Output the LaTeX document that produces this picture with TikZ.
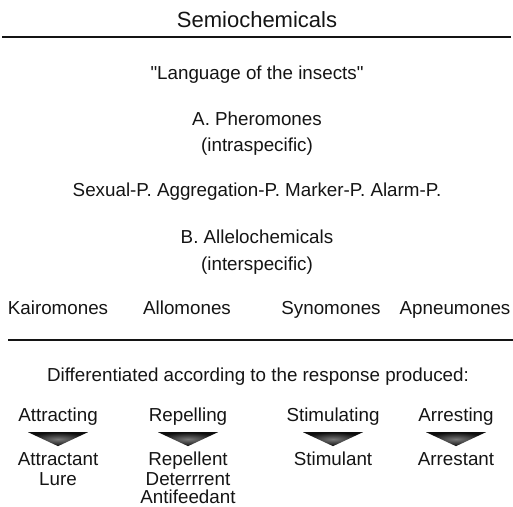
\documentclass[tikz,border=0pt]{standalone}
\usepackage{fontspec}
\setmainfont{Liberation Sans}
\usetikzlibrary{positioning,shapes.geometric}
\definecolor{inkblack}{RGB}{20, 20, 20}
\definecolor{arrowgrey}{RGB}{120, 120, 120}

\begin{document}
\begin{tikzpicture}[
    x=1pt, y=1pt,
    node distance=8pt and 10pt,
    heading/.style={
        inner sep=0pt,
        text height=16pt,
        text depth=4.7pt,
        text=inkblack,
        font=\fontsize{22}{24}\selectfont
    },
    term/.style={
        inner sep=0pt,
        text height=13.5pt,
        text depth=4pt,
        text=inkblack,
        font=\fontsize{18.8}{20}\selectfont
    },
    rule/.style={
        draw=inkblack,
        line width=1.1pt
    },
    tri/.style={
        isosceles triangle,
        isosceles triangle stretches,
        shape border rotate=270,
        minimum width=60pt,
        minimum height=14pt,
        inner sep=0pt,
        draw=none,
        inner color=arrowgrey,
        outer color=black!95
    }
]
    \useasboundingbox (0,0) rectangle (513,-506);

    % 1. Title and the first block
    \node[heading] (title) at (257,-22) {Semiochemicals};
    \draw[rule] (2,-37) -- (511,-37);

    \node[term, below=32.9pt of title] (lang) {\textquotedbl Language of the insects\textquotedbl};
    \node[term, below=28.5pt of lang] (pher) {A. Pheromones};
    \node[term, below=8.5pt of pher] (intra) {(intraspecific)};
    \node[term, below=26.5pt of intra] (sexual) {Sexual-P. Aggregation-P. Marker-P. Alarm-P.};
    \node[term, below=29.5pt of sexual] (allelo) {B. Allelochemicals};
    \node[term, below=8.5pt of allelo] (inter) {(interspecific)};

    % 2. Allelochemical classes
    \node[term] (kairo) at (58,-310) {Kairomones};
    \node[term] (allo) at (187,-310) {Allomones};
    \node[term] (syno) at (331,-310) {Synomones};
    \node[term] (apneu) at (455,-310) {Apneumones};
    \draw[rule] (8,-340) -- (513,-340);

    % 3. Response types
    \node[term] (diff) at (258,-377) {Differentiated according to the response produced:};

    \node[term] (attr) at (58,-417) {Attracting};
    \node[term] (repel) at (188,-417) {Repelling};
    \node[term] (stim) at (333,-417) {Stimulating};
    \node[term] (arrest) at (456,-417) {Arresting};

    \node[tri, below=6pt of attr] (attrtri) {};
    \node[tri, below=6pt of repel] (repeltri) {};
    \node[tri, below=6pt of stim] (stimtri) {};
    \node[tri, below=6pt of arrest] (arresttri) {};

    \node[term, below=5pt of attrtri] (attrp) {Attractant};
    \node[term, below=2pt of attrp] (lure) {Lure};
    \node[term, below=5pt of repeltri] (repelp) {Repellent};
    \node[term, below=2pt of repelp] (deter) {Deterrrent};
    \node[term, below=0pt of deter] (antif) {Antifeedant};
    \node[term, below=5pt of stimtri] (stimp) {Stimulant};
    \node[term, below=5pt of arresttri] (arrestp) {Arrestant};

\end{tikzpicture}
\end{document}
